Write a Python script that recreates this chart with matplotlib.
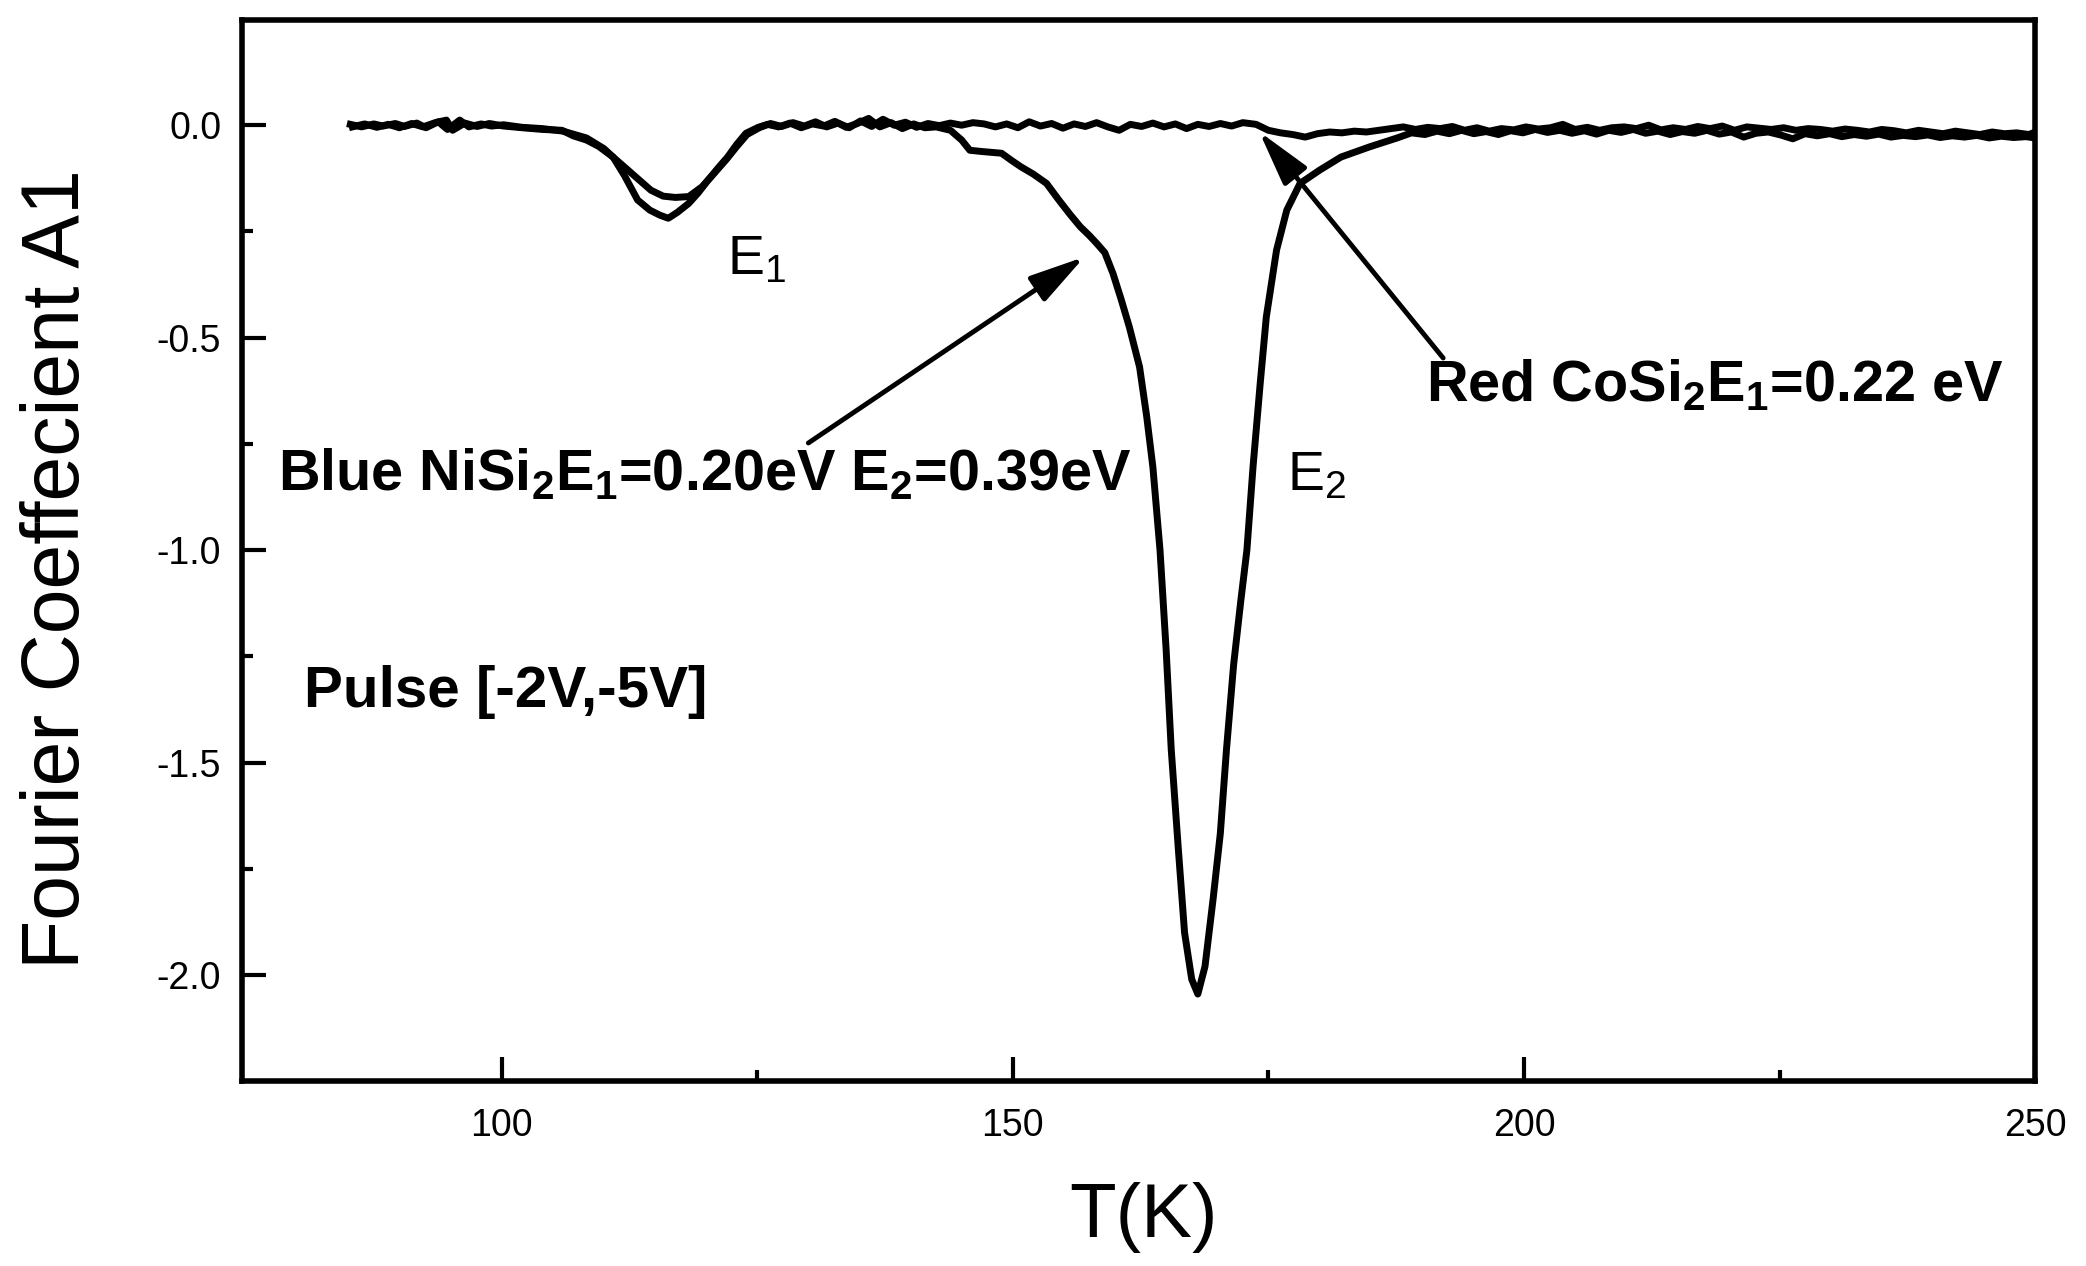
"""
DLTS Fourier coefficient A1 vs temperature, NiSi2 / CoSi2
"""
import matplotlib
matplotlib.use('Agg')
import matplotlib.pyplot as plt
from matplotlib.ticker import FixedLocator, FormatStrFormatter
from matplotlib.patches import ArrowStyle

# ==================== data ====================
# NiSi2 ("Blue"): E1 trap near 116 K, E2 trap near 168 K
nisi2_points = [
    (85.4, -0.004), (86.6, 0.003), (87.8, -0.005), (88.9, 0.002), (90.0, -0.006),
    (91.2, 0.004), (92.3, -0.004), (93.5, 0.006), (94.6, 0.012), (95.2, -0.012),
    (96.4, 0.005), (97.6, -0.003), (98.8, 0.004), (100.2, -0.002), (102.0, -0.006),
    (104.0, -0.010), (105.9, -0.012), (107.0, -0.025), (108.3, -0.035), (109.5, -0.050),
    (110.9, -0.075), (112.0, -0.118), (113.3, -0.176), (114.5, -0.200), (115.5, -0.212),
    (116.3, -0.219), (117.2, -0.205), (118.3, -0.184), (119.2, -0.160), (120.2, -0.129),
    (121.2, -0.100), (122.1, -0.075), (123.0, -0.045), (123.9, -0.019), (125.1, -0.005),
    (126.0, 0.002), (127.1, -0.004), (128.2, 0.005), (129.3, -0.006), (130.4, 0.003),
    (131.5, -0.002), (132.6, 0.009), (133.7, -0.005), (134.8, 0.004), (135.9, 0.016),
    (137.0, -0.004), (138.1, 0.006), (139.2, -0.008), (140.3, 0.003), (141.4, -0.006),
    (142.5, -0.004), (143.9, -0.012), (145.0, -0.035), (145.8, -0.059), (147.0, -0.062),
    (148.9, -0.066), (150.0, -0.085), (150.8, -0.098), (152.0, -0.115), (153.3, -0.137),
    (154.5, -0.176), (155.6, -0.210), (156.6, -0.239), (157.5, -0.260), (158.2, -0.278),
    (159.0, -0.300), (159.8, -0.349), (160.6, -0.410), (161.4, -0.475), (162.4, -0.569),
    (163.1, -0.686), (163.7, -0.804), (164.4, -1.000), (165.0, -1.235), (165.5, -1.470),
    (166.2, -1.706), (166.8, -1.900), (167.5, -2.010), (168.1, -2.045), (168.8, -1.980),
    (169.6, -1.820), (170.3, -1.667), (170.9, -1.470), (171.6, -1.270), (172.3, -1.120),
    (172.9, -1.000), (173.5, -0.804), (174.2, -0.608), (174.8, -0.451), (175.8, -0.294),
    (176.8, -0.200), (178.1, -0.137), (180.0, -0.106), (182.1, -0.075), (184.9, -0.051),
    (187.6, -0.030), (189.0, -0.018), (190.3, -0.022), (191.5, -0.014), (192.7, -0.020),
    (193.9, -0.012), (195.1, -0.020), (196.3, -0.015), (197.5, -0.022), (198.7, -0.013),
    (199.9, -0.018), (201.1, -0.010), (202.3, -0.017), (203.5, -0.012), (204.7, -0.019),
    (205.9, -0.013), (207.1, -0.021), (208.3, -0.012), (209.5, -0.017), (210.7, -0.010),
    (211.9, -0.019), (213.1, -0.014), (214.3, -0.022), (215.5, -0.015), (216.7, -0.019),
    (217.9, -0.012), (219.1, -0.021), (220.3, -0.016), (221.5, -0.028), (222.7, -0.019),
    (223.9, -0.016), (225.1, -0.023), (226.3, -0.032), (227.5, -0.020), (228.7, -0.025),
    (229.9, -0.020), (231.1, -0.027), (232.3, -0.022), (233.5, -0.026), (234.7, -0.021),
    (235.9, -0.028), (237.1, -0.024), (238.3, -0.027), (239.5, -0.023), (240.7, -0.029),
    (241.9, -0.025), (243.1, -0.028), (244.3, -0.024), (245.5, -0.030), (246.7, -0.026),
    (247.9, -0.029), (249.1, -0.027), (250.0, -0.030),
]

# CoSi2 ("Red"): only the E1 trap near 117 K
cosi2_points = [
    (85.2, 0.002), (86.3, -0.004), (87.5, 0.003), (88.4, -0.002), (89.6, 0.004),
    (90.5, -0.003), (91.7, 0.005), (92.6, -0.006), (93.8, 0.008), (94.7, -0.010),
    (95.9, 0.012), (96.8, -0.004), (98.0, 0.003), (99.0, -0.002), (100.2, 0.001),
    (102.0, -0.005), (104.0, -0.008), (106.0, -0.014), (108.3, -0.030), (110.0, -0.055),
    (110.9, -0.075), (112.7, -0.113), (114.6, -0.153), (115.8, -0.167), (117.0, -0.170),
    (118.3, -0.168), (119.6, -0.145), (120.8, -0.113), (122.0, -0.080), (123.0, -0.050),
    (124.0, -0.022), (125.2, -0.006), (126.3, 0.004), (127.4, -0.003), (128.5, 0.006),
    (129.6, -0.002), (130.7, 0.008), (131.8, -0.004), (132.9, 0.005), (134.0, -0.006),
    (135.1, 0.010), (136.2, -0.003), (137.3, 0.014), (138.4, 0.000), (139.5, 0.007),
    (140.6, -0.005), (141.7, 0.004), (142.8, -0.001), (143.9, 0.005), (145.0, 0.000),
    (146.1, 0.006), (147.2, 0.003), (148.3, -0.004), (149.4, 0.003), (150.5, -0.006),
    (151.6, 0.008), (152.7, -0.002), (153.8, 0.004), (154.9, -0.007), (156.0, 0.003),
    (157.1, -0.003), (158.2, 0.006), (159.3, -0.004), (160.4, -0.012), (161.5, 0.002),
    (162.6, -0.003), (163.7, 0.005), (164.8, -0.004), (165.9, 0.003), (167.0, -0.008),
    (168.1, 0.002), (169.2, -0.003), (170.3, 0.004), (171.4, -0.002), (172.5, 0.006),
    (173.8, 0.002), (175.0, -0.012), (176.2, -0.018), (177.4, -0.022), (178.6, -0.028),
    (179.8, -0.020), (181.0, -0.016), (182.2, -0.018), (183.4, -0.014), (184.6, -0.016),
    (185.8, -0.012), (187.0, -0.008), (188.2, -0.004), (189.4, -0.010), (190.6, -0.005),
    (191.8, -0.008), (193.0, -0.003), (194.2, -0.012), (195.4, -0.006), (196.6, -0.014),
    (197.8, -0.008), (199.0, -0.011), (200.2, -0.004), (201.4, -0.009), (202.6, -0.006),
    (203.8, 0.002), (205.0, -0.010), (206.2, -0.005), (207.4, -0.012), (208.6, -0.006),
    (209.8, -0.004), (211.0, -0.008), (212.2, 0.000), (213.4, -0.011), (214.6, -0.006),
    (215.8, -0.010), (217.0, -0.003), (218.2, -0.008), (219.4, -0.002), (220.6, -0.012),
    (221.8, -0.004), (223.0, -0.007), (224.2, -0.010), (225.4, -0.006), (226.6, -0.012),
    (227.8, -0.008), (229.0, -0.010), (230.2, -0.014), (231.4, -0.009), (232.6, -0.012),
    (233.8, -0.016), (235.0, -0.010), (236.2, -0.013), (237.4, -0.018), (238.6, -0.012),
    (239.8, -0.016), (241.0, -0.020), (242.2, -0.014), (243.4, -0.018), (244.6, -0.022),
    (245.8, -0.016), (247.0, -0.020), (248.2, -0.018), (249.4, -0.022), (250.0, -0.016),
]

x_major = [100, 150, 200, 250]
x_minor = [125, 175, 225]
y_major = [0.0, -0.5, -1.0, -1.5, -2.0]
y_minor = [-0.25, -0.75, -1.25, -1.75]

# ==================== style ====================
plt.rcParams.update({
    'font.family': ['Liberation Sans', 'DejaVu Sans'],
    'mathtext.default': 'regular',
    'axes.unicode_minus': False,
    'axes.linewidth': 4.0,
})


def plot():
    fig = plt.figure(figsize=(20.86, 12.66), dpi=100)
    ax = fig.add_axes([0.116, 0.146, 0.8596, 0.838])

    for pts in (nisi2_points, cosi2_points):
        T = [p[0] for p in pts]
        A1 = [p[1] for p in pts]
        ax.plot(T, A1, color='black', lw=5.0, solid_joinstyle='round')

    ax.set_xlim(74.6, 250)
    ax.set_ylim(-2.25, 0.247)

    ax.xaxis.set_major_locator(FixedLocator(x_major))
    ax.xaxis.set_minor_locator(FixedLocator(x_minor))
    ax.yaxis.set_major_locator(FixedLocator(y_major))
    ax.yaxis.set_minor_locator(FixedLocator(y_minor))
    ax.xaxis.set_major_formatter(FormatStrFormatter('%d'))
    ax.yaxis.set_major_formatter(FormatStrFormatter('%.1f'))
    ax.tick_params(which='both', direction='in', top=False, right=False, width=3)
    ax.tick_params(which='major', length=17, labelsize=27)
    ax.tick_params(which='minor', length=8)
    ax.tick_params(axis='x', which='major', pad=19)
    ax.tick_params(axis='y', which='major', pad=15)

    ax.set_xlabel('T(K)', fontsize=55)
    ax.set_ylabel('Fourier Coeffecient A1', fontsize=58)
    ax.xaxis.set_label_coords(0.503, -0.095)
    ax.yaxis.set_label_coords(-0.0815, 0.4826)

    # --- annotations ---
    head = ArrowStyle('-|>', head_length=3.4, head_width=0.9)
    arrow_kw = dict(arrowstyle=head, mutation_scale=10, color='black', lw=3.5,
                    shrinkA=0, shrinkB=0)
    ax.annotate('', xy=(157.0, -0.31), xytext=(130.0, -0.748), arrowprops=arrow_kw)
    ax.annotate('', xy=(174.1, -0.015), xytext=(192.1, -0.548), arrowprops=arrow_kw)

    ax.text(78.1, -0.859, 'Blue NiSi$_2$E$_1$=0.20eV E$_2$=0.39eV',
            fontsize=41.5, fontweight='bold', va='baseline')
    ax.text(190.4, -0.649, 'Red CoSi$_2$E$_1$=0.22 eV',
            fontsize=41.5, fontweight='bold', va='baseline')
    ax.text(80.7, -1.369, 'Pulse [-2V,-5V]',
            fontsize=42, fontweight='bold', va='baseline')
    ax.text(122.0, -0.35, 'E$_1$', fontsize=40, va='baseline')
    ax.text(176.8, -0.86, 'E$_2$', fontsize=40, va='baseline')

    fig.savefig('out.png', dpi=100)
    plt.close(fig)


if __name__ == '__main__':
    plot()
